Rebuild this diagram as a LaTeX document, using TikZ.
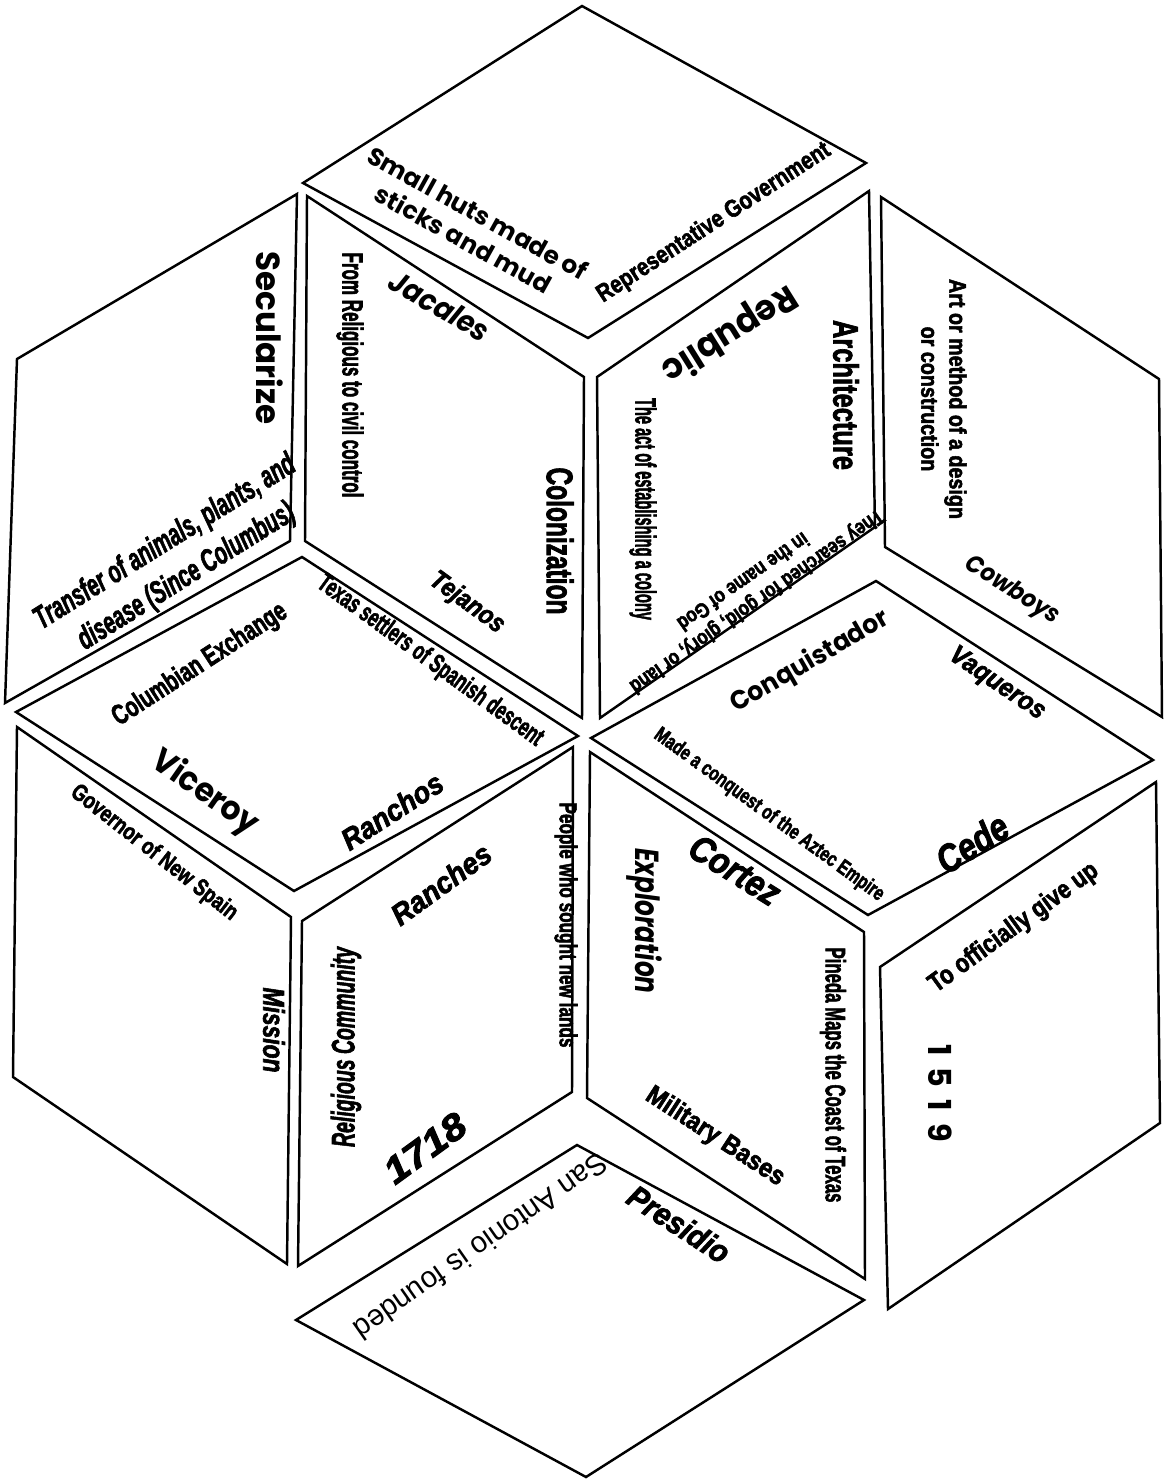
\documentclass[tikz,border=0pt]{standalone}
\usepackage{fontspec}
\setmainfont{Liberation Sans}[BoldFeatures={FakeBold=2.5}, BoldItalicFeatures={FakeBold=2.5}]
\newfontfamily\geo{Poppins}
\usepackage{graphicx}
\newcommand\fit[2]{\resizebox{#1}{\height}{#2}}
\newcommand\fs[2]{\fontsize{#1}{#2}\selectfont}

\begin{document}
\begin{tikzpicture}[x=0.02cm, y=-0.02cm,
  piece/.style={draw, line width=1.4pt, line join=miter},
  lbl/.style={inner sep=0pt, anchor=center}
]
\useasboundingbox (0,0) rectangle (1164,1481);

% pieces
\draw[piece] (303,183) -- (582,6) -- (866,163) -- (588,338) -- cycle;
\draw[piece] (297,194) -- (17,359) -- (5,703) -- (290,541) -- cycle;
\draw[piece] (307,196) -- (584,377) -- (582,718) -- (305,541) -- cycle;
\draw[piece] (597,377) -- (869,191) -- (875,527) -- (600,718) -- cycle;
\draw[piece] (881,197) -- (1159,379) -- (1162,717) -- (885,547) -- cycle;
\draw[piece] (16,712) -- (302,557) -- (578,736) -- (294,891) -- cycle;
\draw[piece] (591,738) -- (876,581) -- (1153,760) -- (868,915) -- cycle;
\draw[piece] (17,727) -- (291,917) -- (287,1264) -- (13,1077) -- cycle;
\draw[piece] (302,921) -- (573,747) -- (572,1092) -- (298,1266) -- cycle;
\draw[piece] (590,752) -- (864,932) -- (865,1279) -- (587,1098) -- cycle;
\draw[piece] (880,967) -- (1156,782) -- (1160,1123) -- (888,1309) -- cycle;
\draw[piece] (296,1320) -- (577,1145) -- (864,1300) -- (586,1477) -- cycle;

% labels
\node[lbl, rotate=-29] (huts) at (469,229) {\fit{4.94cm}{\geo\bfseries\fs{14}{17}\begin{tabular}{@{}c@{}}Small huts made of\\sticks and mud\end{tabular}}};
\node[lbl, rotate=33] (repgov) at (714,223) {\fit{5.46cm}{\bfseries\fs{14}{14}Representative Government}};
\node[lbl, rotate=-90] (secul) at (270,338) {\fit{3.46cm}{\geo\bfseries\fs{19}{19}Secularize}};
\node[lbl, rotate=32] (transfer) at (176,560) {\fit{6.04cm}{\bfseries\itshape\fs{18}{23}\begin{tabular}{@{}c@{}}Transfer of animals, plants, and\\disease (Since Columbus)\end{tabular}}};
\node[lbl, rotate=-90] (fromrel) at (350,375) {\fit{4.9cm}{\bfseries\fs{16.5}{16.5}From Religious to civil control}};
\node[lbl, rotate=-30] (jacales) at (440,306) {\fit{2.2cm}{\geo\bfseries\itshape\fs{17}{17}Jacales}};
\node[lbl, rotate=-90] (colon) at (560,541) {\fit{2.94cm}{\bfseries\fs{21}{21}Colonization}};
\node[lbl, rotate=-36] (tejanos) at (467,603) {\fit{1.72cm}{\bfseries\itshape\fs{15}{15}Tejanos}};
\node[lbl, rotate=-36] (settlers) at (430,661) {\fit{5.45cm}{\bfseries\fs{15}{15}Texas settlers of Spanish descent}};
\node[lbl, rotate=33] (columb) at (200,665) {\fit{4.05cm}{\bfseries\fs{16}{16}Columbian Exchange}};
\node[lbl, rotate=-35] (viceroy) at (205,793) {\fit{2.45cm}{\geo\bfseries\fs{19}{19}Viceroy}};
\node[lbl, rotate=33] (ranchos) at (392,811) {\fit{2.3cm}{\bfseries\itshape\fs{17}{17}Ranchos}};
\node[lbl, rotate=-148] (republic) at (729,333) {\fit{3.05cm}{\geo\bfseries\fs{20}{20}Republic}};
\node[lbl, rotate=-90] (archit) at (846,395) {\fit{3cm}{\bfseries\fs{20}{20}Architecture}};
\node[lbl, rotate=-90] (actcol) at (643,509) {\fit{4.44cm}{\bfseries\fs{16.5}{16.5}The act of establishing a colony}};
\node[lbl, rotate=-145] (searched) at (749,590) {\fit{6.1cm}{\bfseries\fs{12}{14}\begin{tabular}{@{}c@{}}They searched for gold, glory, or land\\in the name of God\end{tabular}}};
\node[lbl, rotate=-90] (artmeth) at (941,399) {\fit{4.8cm}{\bfseries\fs{13.5}{16}\begin{tabular}{@{}c@{}}Art or method of a design\\or construction\end{tabular}}};
\node[lbl, rotate=-32] (cowboys) at (1012,591) {\fit{2.13cm}{\geo\bfseries\itshape\fs{14}{14}Cowboys}};
\node[lbl, rotate=30] (conq) at (810,662) {\fit{3.57cm}{\geo\bfseries\fs{15}{15}Conquistador}};
\node[lbl, rotate=-34] (vaqueros) at (997,684) {\fit{2.2cm}{\bfseries\itshape\fs{15}{15}Vaqueros}};
\node[lbl, rotate=-36] (aztec) at (769,815) {\fit{5.58cm}{\bfseries\fs{12}{12}Made a conquest of the Aztec Empire}};
\node[lbl, rotate=32] (cede) at (972,843) {\fit{1.55cm}{\bfseries\itshape\fs{22}{22}Cede}};
\node[lbl, rotate=-32] (cortez) at (735,870) {\fit{2cm}{\bfseries\itshape\fs{21}{21}Cortez}};
\node[lbl, rotate=-38] (governor) at (154,853) {\fit{4.1cm}{\bfseries\fs{13.5}{13.5}Governor of New Spain}};
\node[lbl, rotate=-90] (mission) at (274,1030) {\fit{1.7cm}{\bfseries\itshape\fs{17}{17}Mission}};
\node[lbl, rotate=36] (ranches) at (441,884) {\fit{2.32cm}{\bfseries\itshape\fs{17}{17}Ranches}};
\node[lbl, rotate=-90] (people) at (566,925) {\fit{4.9cm}{\bfseries\fs{14}{14}People who sought new lands}};
\node[lbl, rotate=90] (relcom) at (346,1047) {\fit{4cm}{\bfseries\itshape\fs{18.5}{18.5}Religious Community}};
\node[lbl, rotate=36] (yr1718) at (425,1148) {\fit{1.85cm}{\bfseries\itshape\fs{21}{21}1718}};
\node[lbl, rotate=-90] (explor) at (644,921) {\fit{2.9cm}{\geo\bfseries\itshape\fs{19}{19}Exploration}};
\node[lbl, rotate=-90] (pineda) at (833,1075) {\fit{5.1cm}{\bfseries\fs{16}{16}Pineda Maps the Coast of Texas}};
\node[lbl, rotate=-33] (military) at (715,1137) {\fit{3.2cm}{\bfseries\fs{15}{15}Military Bases}};
\node[lbl, rotate=36] (giveup) at (1014,928) {\fit{4.05cm}{\bfseries\fs{15}{15}To officially give up}};
\node[lbl, rotate=-90] (yr1519) at (940,1093) {\fit{1.95cm}{\geo\bfseries\fs{18}{18}1\kern.4em5\kern.4em1\kern.4em9}};
\node[lbl, rotate=-145] (sanant) at (481,1247) {\fit{6.03cm}{\fs{17}{17}San Antonio is founded}};
\node[lbl, rotate=-33] (presidio) at (679,1224) {\fit{2.3cm}{\bfseries\itshape\fs{18}{18}Presidio}};
\end{tikzpicture}
\end{document}
